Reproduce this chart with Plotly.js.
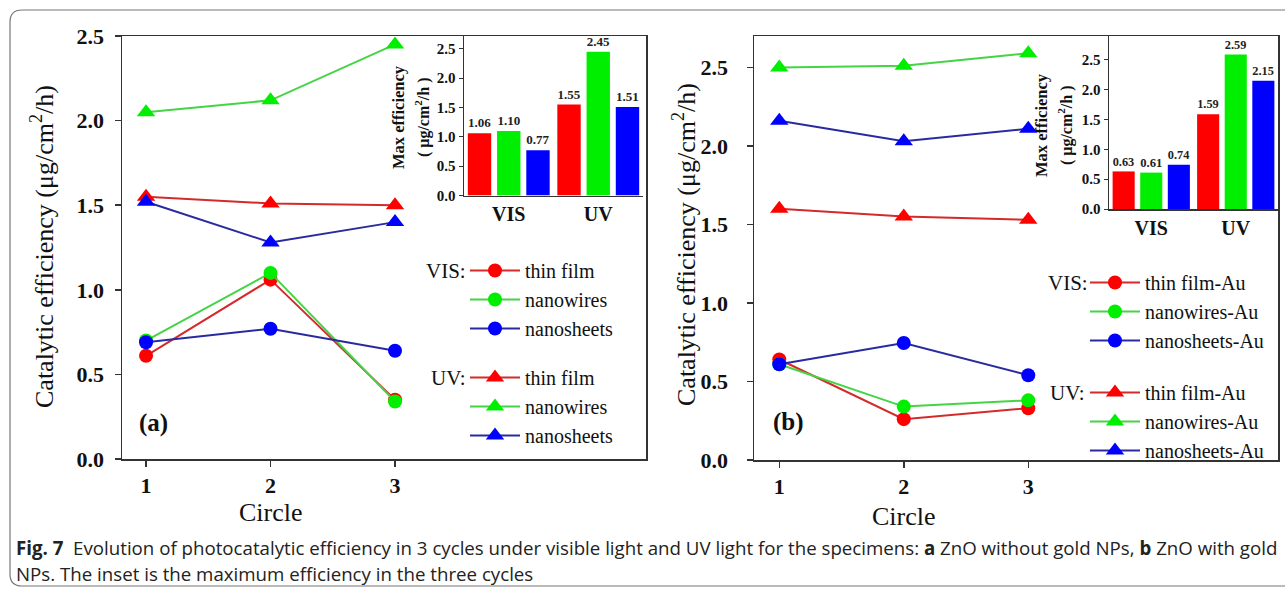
<!DOCTYPE html>
<html>
<head>
<meta charset="utf-8">
<script src="https://cdn.plot.ly/plotly-3.0.1.min.js"></script>
<style>html,body{margin:0;padding:0;background:#fff;}#chart{width:1285px;height:592px;}</style>
</head>
<body>
<div id="chart"></div>
<script>
// ---------- data ----------
const cycles = [1, 2, 3];
const xTickLabels = ['1', '2', '3'];

// panel (a): ZnO without gold
const visThinA   = [0.61, 1.06, 0.35];
const visWiresA  = [0.70, 1.10, 0.34];
const visSheetsA = [0.69, 0.77, 0.64];
const uvThinA    = [1.55, 1.51, 1.50];
const uvWiresA   = [2.05, 2.12, 2.45];
const uvSheetsA  = [1.52, 1.28, 1.40];

// panel (b): ZnO with gold
const visThinB   = [0.64, 0.26, 0.33];
const visWiresB  = [0.61, 0.34, 0.38];
const visSheetsB = [0.61, 0.745, 0.54];
const uvThinB    = [1.60, 1.55, 1.53];
const uvWiresB   = [2.50, 2.51, 2.59];
const uvSheetsB  = [2.16, 2.03, 2.11];

// insets: max efficiency
const insetCats = ['VIS', 'UV'];
const maxThinA   = [1.06, 1.55];
const maxWiresA  = [1.10, 2.45];
const maxSheetsA = [0.77, 1.51];
const maxThinB   = [0.63, 1.59];
const maxWiresB  = [0.61, 2.59];
const maxSheetsB = [0.74, 2.15];

const namesA = ['thin film', 'nanowires', 'nanosheets'];
const namesB = ['thin film-Au', 'nanowires-Au', 'nanosheets-Au'];

// ---------- style ----------
const W = 1285, H = 592;
const px = x => x / W;
const py = y => 1 - y / H;
const SERIF = 'Liberation Serif, Times New Roman, serif';
const SANS = 'Open Sans, Noto Sans, sans-serif';
const markerCol = ['#ff0000', '#00ee00', '#0000ff'];
const lineCol = ['#d42a2a', '#45d445', '#2a2aa0'];
const axisCol = '#333333';

const traces = [];
function addSeries(vals, idx, name, sym, xa, ya, legend) {
  traces.push({
    type: 'scatter', mode: 'lines+markers',
    x: cycles, y: vals, name: name,
    xaxis: xa, yaxis: ya, legend: legend,
    line: {color: lineCol[idx], width: 2},
    marker: {color: markerCol[idx], symbol: sym, size: sym === 'circle' ? 14 : 16, line: {width: 0}},
    cliponaxis: false
  });
}
[visThinA, visWiresA, visSheetsA].forEach((v, i) => addSeries(v, i, namesA[i], 'circle', 'x', 'y', 'legend'));
[uvThinA, uvWiresA, uvSheetsA].forEach((v, i) => addSeries(v, i, namesA[i], 'triangle-up', 'x', 'y', 'legend2'));
[visThinB, visWiresB, visSheetsB].forEach((v, i) => addSeries(v, i, namesB[i], 'circle', 'x3', 'y3', 'legend3'));
[uvThinB, uvWiresB, uvSheetsB].forEach((v, i) => addSeries(v, i, namesB[i], 'triangle-up', 'x3', 'y3', 'legend4'));

function addBars(vals, idx, xa, ya) {
  traces.push({
    type: 'bar', x: insetCats, y: vals, xaxis: xa, yaxis: ya, showlegend: false,
    marker: {color: markerCol[idx], line: {width: 0}},
    text: vals.map(v => v.toFixed(2)), textposition: 'outside',
    textfont: {family: SERIF, size: 13, weight: 'bold', color: '#222'},
    cliponaxis: false
  });
}
[maxThinA, maxWiresA, maxSheetsA].forEach((v, i) => addBars(v, i, 'x2', 'y2'));
[maxThinB, maxWiresB, maxSheetsB].forEach((v, i) => addBars(v, i, 'x4', 'y4'));

function mainX(domain, range) {
  return {domain: domain, range: range, tickvals: cycles, ticktext: xTickLabels,
    showline: true, mirror: true, linecolor: axisCol, linewidth: 1.5,
    ticks: 'outside', ticklen: 6, tickcolor: axisCol, tickwidth: 1.5,
    showgrid: false, zeroline: false,
    tickfont: {family: SERIF, size: 22, weight: 'bold', color: '#111'}};
}
function mainY(domain, range, standoff) {
  return {domain: domain, range: range, dtick: 0.5, tick0: 0, tickformat: '.1f',
    showline: true, mirror: true, linecolor: axisCol, linewidth: 1.5,
    ticks: 'outside', ticklen: 6, tickcolor: axisCol, tickwidth: 1.5,
    ticklabelstandoff: standoff,
    showgrid: false, zeroline: false,
    tickfont: {family: SERIF, size: 22, weight: 'bold', color: '#111'}};
}
function insetX(domain, anchor) {
  return {domain: domain, anchor: anchor, showline: true, linecolor: axisCol, linewidth: 1.5,
    ticks: '', showgrid: false, zeroline: false,
    tickfont: {family: SERIF, size: 20, weight: 'bold', color: '#111'}};
}
function insetY(domain, range, anchor) {
  return {domain: domain, range: range, anchor: anchor, dtick: 0.5, tick0: 0, tickformat: '.1f',
    showline: true, linecolor: axisCol, linewidth: 1.5,
    ticks: 'outside', ticklen: 4, tickcolor: axisCol,
    showgrid: false, zeroline: false,
    tickfont: {family: SERIF, size: 15, weight: 'bold', color: '#111'}};
}

function legendAt(x, y) {
  return {x: px(x), y: py(y), xanchor: 'left', yanchor: 'top', bgcolor: 'rgba(0,0,0,0)',
    borderwidth: 0, itemwidth: 50, tracegroupgap: 0,
    font: {family: SERIF, size: 20, color: '#111'}, itemclick: false};
}

function ann(text, x, y, opts) {
  return Object.assign({text: text, x: px(x), y: py(y), xref: 'paper', yref: 'paper',
    showarrow: false, xanchor: 'center', yanchor: 'middle',
    font: {family: SERIF, size: 21, color: '#111'}}, opts || {});
}

const annotations = [
  ann('Catalytic efficiency (μg/cm<sup>2</sup>/h)', 42, 247, {textangle: -90, font: {family: SERIF, size: 26, color: '#111'}}),
  ann('Catalytic efficiency (μg/cm<sup>2</sup>/h)', 685, 245, {textangle: -90, font: {family: SERIF, size: 26, color: '#111'}}),
  ann('Circle', 271, 512, {font: {family: SERIF, size: 26, color: '#111'}}),
  ann('Circle', 904, 516, {font: {family: SERIF, size: 26, color: '#111'}}),
  ann('(a)', 153, 423, {font: {family: SERIF, size: 25, weight: 'bold', color: '#111'}}),
  ann('(b)', 788, 422, {font: {family: SERIF, size: 25, weight: 'bold', color: '#111'}}),
  ann('Max efficiency', 399, 117, {textangle: -90, font: {family: SERIF, size: 16.5, weight: 'bold', color: '#111'}}),
  ann('( μg/cm<sup>2</sup>/h )', 423, 117, {textangle: -90, font: {family: SERIF, size: 16, weight: 'bold', color: '#111'}}),
  ann('Max efficiency', 1041, 125, {textangle: -90, font: {family: SERIF, size: 16.5, weight: 'bold', color: '#111'}}),
  ann('( μg/cm<sup>2</sup>/h )', 1065, 125, {textangle: -90, font: {family: SERIF, size: 16, weight: 'bold', color: '#111'}}),
  ann('VIS:', 468, 271, {xanchor: 'right'}),
  ann('UV:', 468, 378, {xanchor: 'right'}),
  ann('VIS:', 1090, 283, {xanchor: 'right'}),
  ann('UV:', 1087, 393, {xanchor: 'right'}),
  ann('<b>Fig. 7</b>  Evolution of photocatalytic efficiency in 3 cycles under visible light and UV light for the specimens: <b>a</b> ZnO without gold NPs, <b>b</b> ZnO with gold',
      14, 547, {xanchor: 'left', font: {family: SANS, size: 18.7, color: '#222'}}),
  ann('NPs. The inset is the maximum efficiency in the three cycles',
      14, 573, {xanchor: 'left', font: {family: SANS, size: 18.7, color: '#222'}})
];

const frame = {type: 'path', xref: 'paper', yref: 'paper', layer: 'below',
  path: `M ${px(1300)},${py(10)} L ${px(22)},${py(10)} Q ${px(10)},${py(10)} ${px(10)},${py(22)} L ${px(10)},${py(574)} Q ${px(10)},${py(586)} ${px(22)},${py(586)} L ${px(1300)},${py(586)}`,
  line: {color: '#777', width: 1.2}};

const layout = {
  width: W, height: H, margin: {l: 0, r: 0, t: 0, b: 0},
  paper_bgcolor: '#fff', plot_bgcolor: 'rgba(0,0,0,0)',
  barmode: 'group', bargap: 0.02, bargroupgap: 0.2,
  xaxis: mainX([px(122), px(646)], [0.807, 5.016]),
  yaxis: mainY([py(459), py(36)], [0, 2.5], 6),
  xaxis3: Object.assign(mainX([px(754), px(1278)], [0.797, 5.006]), {anchor: 'y3'}),
  yaxis3: Object.assign(mainY([py(460), py(36)], [0, 2.7], 14), {anchor: 'x3'}),
  xaxis2: insetX([px(464), px(643)], 'y2'),
  yaxis2: insetY([py(195.5), py(36)], [0, 2.72], 'x2'),
  xaxis4: insetX([px(1109), px(1278)], 'y4'),
  yaxis4: insetY([py(209), py(36)], [0, 2.9], 'x4'),
  legend: legendAt(465, 251),
  legend2: legendAt(465, 358),
  legend3: legendAt(1085, 263),
  legend4: legendAt(1085, 373),
  annotations: annotations,
  shapes: [frame],
  showlegend: true
};
layout.xaxis.anchor = 'y';
layout.yaxis.anchor = 'x';

Plotly.newPlot('chart', traces, layout, {staticPlot: true, displayModeBar: false});
</script>
</body>
</html>
